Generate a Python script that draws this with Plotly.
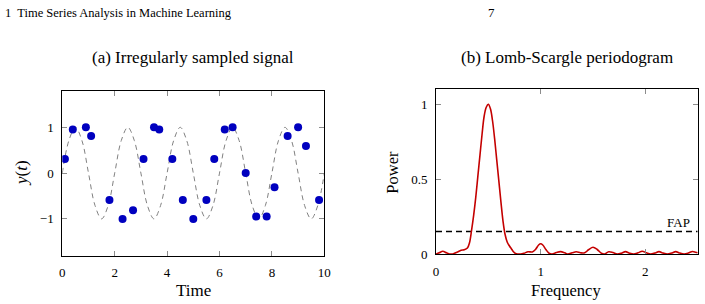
import plotly.graph_objects as go

# ---------------- data ----------------
# (a) irregular samples
t_obs = [0.1, 0.4, 0.9, 1.1, 1.8, 2.3, 2.7, 3.1, 3.5, 3.7, 4.2, 4.6, 5.0,
         5.5, 5.8, 6.2, 6.5, 7.0, 7.4, 7.8, 8.1, 8.6, 9.0, 9.3, 9.8]
y_obs = [0.31, 0.95, 1.0, 0.81, -0.59, -1.0, -0.81, 0.31, 1.0, 0.95, 0.31, -0.59, -1.0,
         -0.59, 0.31, 0.95, 1.0, 0.0, -0.95, -0.95, -0.31, 0.81, 1.0, 0.59, -0.59]

# underlying signal samples (step 0.25)
t_true = [i * 0.25 for i in range(41)]
y_true = [0, 0.71, 1, 0.71, 0, -0.71, -1, -0.71,
          0, 0.71, 1, 0.71, 0, -0.71, -1, -0.71,
          0, 0.71, 1, 0.71, 0, -0.71, -1, -0.71,
          0, 0.71, 1, 0.71, 0, -0.71, -1, -0.71,
          0, 0.71, 1, 0.71, 0, -0.71, -1, -0.71, 0]

# (b) periodogram
freq = [0.0, 0.03, 0.065, 0.1, 0.13, 0.16, 0.2, 0.24, 0.27, 0.3, 0.32, 0.34, 0.36, 0.38,
        0.40, 0.42, 0.44, 0.46, 0.48, 0.50, 0.52, 0.54, 0.56, 0.58, 0.60, 0.62, 0.64,
        0.66, 0.68, 0.70, 0.72, 0.74, 0.76, 0.78, 0.81, 0.84, 0.88, 0.92, 0.95, 0.98,
        1.0, 1.02, 1.05, 1.08, 1.11, 1.15, 1.19, 1.23, 1.26, 1.30, 1.34, 1.38, 1.42,
        1.46, 1.50, 1.54, 1.58, 1.61, 1.65, 1.69, 1.73, 1.77, 1.81, 1.85, 1.89, 1.93,
        1.97, 2.01, 2.05, 2.09, 2.13, 2.17, 2.21, 2.25, 2.29, 2.33, 2.37, 2.41, 2.45,
        2.48, 2.5]
power = [0.0, 0.008, 0.018, 0.008, 0.0, 0.0, 0.012, 0.025, 0.028, 0.04, 0.075, 0.16, 0.26, 0.38,
         0.52, 0.66, 0.8, 0.92, 0.98, 1.0, 0.97, 0.89, 0.77, 0.63, 0.49, 0.35, 0.22,
         0.13, 0.08, 0.055, 0.035, 0.015, 0.003, 0.0, 0.0, 0.005, 0.015, 0.014, 0.03, 0.06,
         0.068, 0.06, 0.03, 0.005, 0.0, 0.01, 0.016, 0.008, 0.0, 0.008, 0.015, 0.008, 0.008,
         0.03, 0.045, 0.03, 0.005, 0.0, 0.015, 0.01, 0.0, 0.005, 0.016, 0.005, 0.0, 0.008,
         0.018, 0.008, 0.0, 0.006, 0.016, 0.006, 0.0, 0.006, 0.016, 0.006, 0.0, 0.006, 0.017,
         0.012, 0.008]
fap_level = 0.15

x1_ticks = [0, 2, 4, 6, 8, 10]
y1_ticks = [-1, 0, 1]
x2_ticks = [0, 1, 2]
y2_ticks = [0, 0.5, 1]

# ---------------- figure ----------------
W, H = 705, 304
SERIF = "Liberation Serif"

def px_x(p):
    return p / W

def px_y(p):
    return 1 - p / H

fig = go.Figure()

fig.add_trace(go.Scatter(x=t_true, y=y_true, mode="lines", line_shape="spline",
                         line=dict(color="#808080", width=1, dash="5px,4px"),
                         xaxis="x", yaxis="y", hoverinfo="skip"))
fig.add_trace(go.Scatter(x=t_obs, y=y_obs, mode="markers",
                         marker=dict(color="#0000bf", size=8),
                         xaxis="x", yaxis="y"))

fig.add_trace(go.Scatter(x=[0, 2.5], y=[fap_level, fap_level], mode="lines",
                         line=dict(color="black", width=1.5, dash="6px,4px"),
                         xaxis="x2", yaxis="y2", hoverinfo="skip"))
fig.add_trace(go.Scatter(x=freq, y=power, mode="lines", line_shape="spline",
                         line=dict(color="#c40000", width=1.6),
                         xaxis="x2", yaxis="y2"))

axis_common = dict(showline=True, linecolor="black", linewidth=1, mirror="ticks",
                   ticks="inside", ticklen=5, tickcolor="#8c8c8c", tickwidth=1,
                   showgrid=False, zeroline=False, automargin=False,
                   tickfont=dict(family=SERIF, size=13, color="black"))

fig.update_layout(
    template="none",
    width=W, height=H,
    margin=dict(l=0, r=0, t=0, b=0, pad=0, autoexpand=False),
    paper_bgcolor="white", plot_bgcolor="white",
    showlegend=False,
    xaxis=dict(domain=[px_x(62.3), px_x(324.3)], range=[0, 10], tickvals=x1_ticks,
               anchor="y", ticklabelstandoff=5, **axis_common),
    yaxis=dict(domain=[px_y(255.5), px_y(90.7)], range=[-1.8, 1.8], tickvals=y1_ticks,
               anchor="x", ticklabelstandoff=5, **axis_common),
    xaxis2=dict(domain=[px_x(436), px_x(697.7)], range=[0, 2.5], tickvals=x2_ticks,
                anchor="y2", ticklabelstandoff=5, **axis_common),
    yaxis2=dict(domain=[px_y(254), px_y(89.3)], range=[0, 1.1], tickvals=y2_ticks,
                anchor="x2", ticklabelstandoff=5, **axis_common),
)

def ann(text, x, y, size, xanchor="center", yanchor="middle", textangle=0, xref="paper", yref="paper"):
    fig.add_annotation(text=text, x=x, y=y, xref=xref, yref=yref, showarrow=False,
                       xanchor=xanchor, yanchor=yanchor, textangle=textangle,
                       font=dict(family=SERIF, size=size, color="black"))

ann("1  Time Series Analysis in Machine Learning", px_x(3), px_y(13), 12.5, xanchor="left")
ann("7", px_x(491), px_y(13), 13)
ann("(a) Irregularly sampled signal", px_x(192.5), px_y(57), 17)
ann("(b) Lomb-Scargle periodogram", px_x(567), px_y(57), 17)
ann("Time", px_x(193.3), px_y(290), 17)
ann("Frequency", px_x(566), px_y(290), 16.5)
ann("<i>y</i>(<i>t</i>)", px_x(21), px_y(173), 17, textangle=-90)
ann("Power", px_x(393), px_y(172.7), 16.5, textangle=-90)
ann("FAP", 2.315, fap_level, 13, yanchor="bottom", xref="x2", yref="y2")

fig.write_html("out.html")
